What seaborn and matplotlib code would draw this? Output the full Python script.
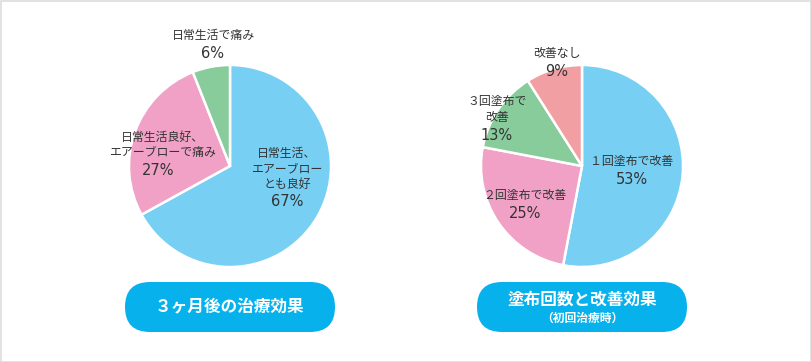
import numpy as np
import seaborn as sns
import matplotlib.pyplot as plt
from matplotlib.patches import FancyBboxPatch, Rectangle

# data
left_labels = ['日常生活、\nエアーブロー\nとも良好', '日常生活良好、\nエアーブローで痛み', '日常生活で痛み']
left_values = [67, 27, 6]
right_labels = ['１回塗布で改善', '２回塗布で改善', '３回塗布で\n改善', '改善なし']
right_values = [53, 25, 13, 9]
left_title = '３ヶ月後の治療効果'
right_title = '塗布回数と改善効果'
right_subtitle = '（初回治療時）'

left_colors = ['#77cff4', '#f0a1c5', '#89cc9b']
right_colors = ['#77cff4', '#f0a1c5', '#89cc9b', '#f19fa3']
btn_color = '#07b1ec'
txt_color = '#333333'

sns.set_style('white')
plt.rcParams['font.family'] = ['Noto Sans CJK JP', 'DejaVu Sans']

W, H = 812, 362
fig = plt.figure(figsize=(W / 100, H / 100), dpi=100)

R = 101


def draw_pie(cx, cy, values, colors):
    ax = fig.add_axes([(cx - R) / W, (H - cy - R) / H, 2 * R / W, 2 * R / H])
    ax.pie(values, colors=colors, startangle=90, counterclock=False,
           wedgeprops=dict(edgecolor='white', linewidth=1.8))
    ax.set_xlim(-1, 1)
    ax.set_ylim(-1, 1)
    ax.set_aspect('auto')
    ax.axis('off')
    return ax


draw_pie(230, 166, left_values, left_colors)
draw_pie(582, 166, right_values, right_colors)

# overlay in pixel coords
ov = fig.add_axes([0, 0, 1, 1], facecolor='none')
ov.set_xlim(0, W)
ov.set_ylim(H, 0)
ov.axis('off')

ov.add_patch(Rectangle((0.5, 0.5), W - 1, H - 1, fill=False, edgecolor='#dddddd', lw=1.2))


def put_label(x, y_first, label, value, px=None):
    lines = label.split('\n')
    for i, ln in enumerate(lines):
        ov.text(x, y_first + i * 15.5, ln, ha='center', va='center', fontsize=8.6, color=txt_color)
    yp = y_first + (len(lines) - 1) * 15.5 + 18
    ov.text(px if px is not None else x, yp, f'{value}%', ha='center', va='center',
            fontsize=10.5, color=txt_color, family='DejaVu Sans')


# left pie labels
put_label(287, 153, left_labels[0], left_values[0])
put_label(162, 137, left_labels[1], left_values[1], px=158)
put_label(213, 35, left_labels[2], left_values[2])

# right pie labels
put_label(632, 162, right_labels[0], right_values[0])
put_label(525, 195, right_labels[1], right_values[1])
put_label(497, 102, right_labels[2], right_values[2])
put_label(557, 53, right_labels[3], right_values[3])


def button(cx, y0, y1, w):
    h = y1 - y0
    ov.add_patch(FancyBboxPatch((cx - w / 2 + h / 2, y0 + h / 2), w - h, 0,
                                boxstyle=f'round,pad={h / 2}', fc=btn_color, ec='none'))


button(230, 282, 332, 210)
button(582, 282, 332, 210)
ov.text(230, 307, left_title, ha='center', va='center', fontsize=12,
        fontweight='bold', color='white')
ov.text(582, 300, right_title, ha='center', va='center', fontsize=12,
        fontweight='bold', color='white')
ov.text(582, 318, right_subtitle, ha='center', va='center', fontsize=8.5,
        fontweight='bold', color='white')

fig.savefig('out.png', dpi=100)
